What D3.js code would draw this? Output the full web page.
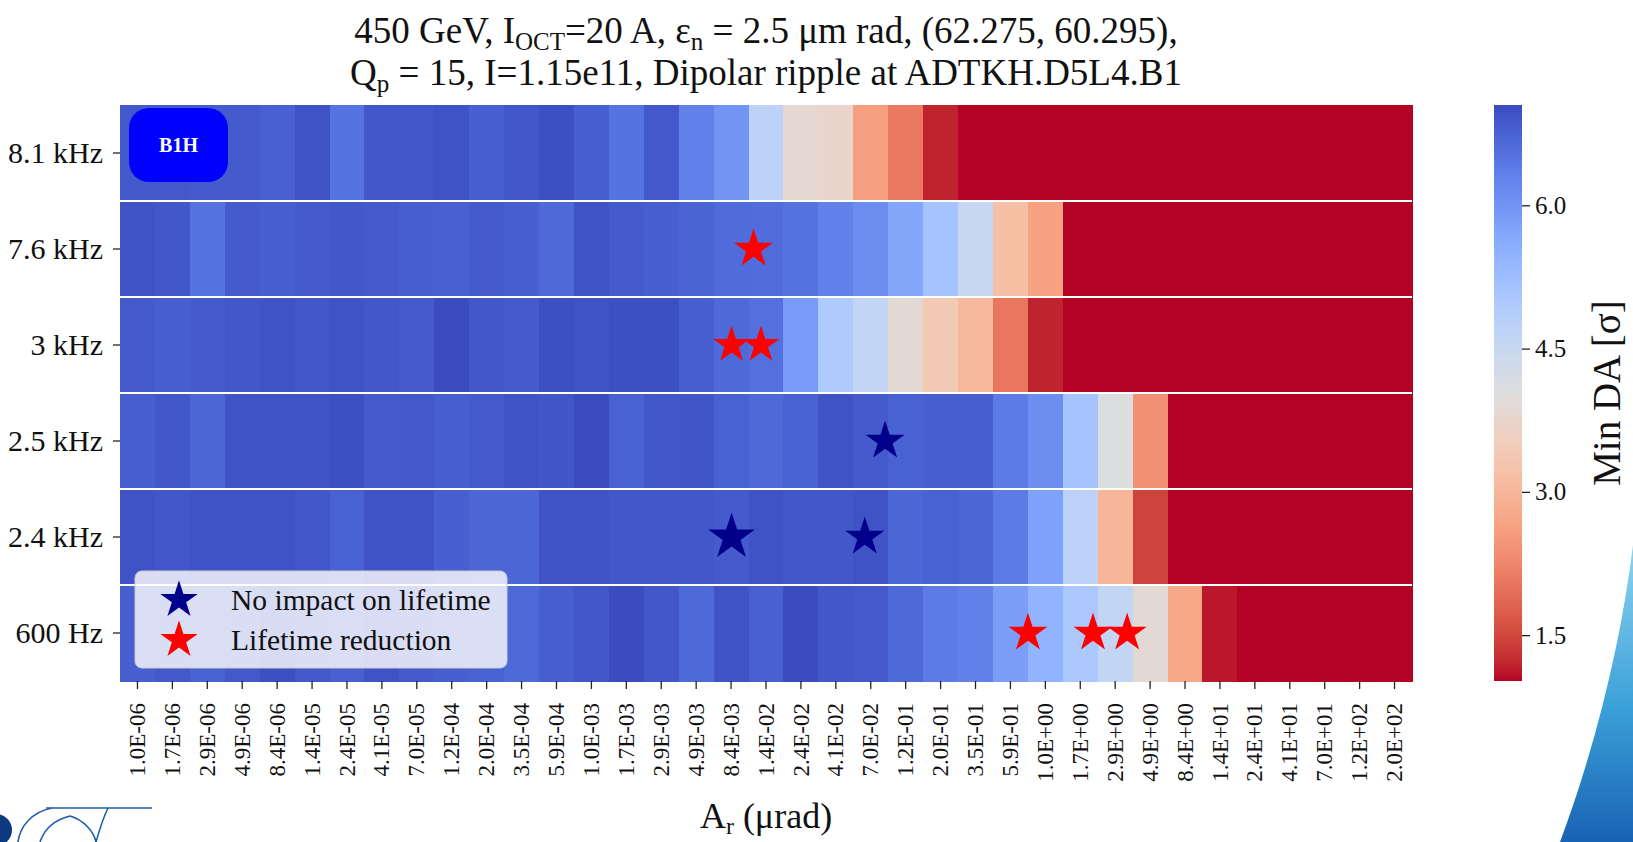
<!DOCTYPE html>
<html>
<head>
<meta charset="utf-8">
<script src="https://cdn.jsdelivr.net/npm/d3@7"></script>
<style>
  html, body { margin: 0; padding: 0; background: #fff; }
  svg { display: block; font-family: "Liberation Serif", "Times New Roman", serif; }
</style>
</head>
<body>
<svg id="chart" width="1633" height="842"></svg>
<script>
// ---- data -------------------------------------------------------------
const frequencies = ["8.1 kHz", "7.6 kHz", "3 kHz", "2.5 kHz", "2.4 kHz", "600 Hz"];

const amplitudeLabels = [
  "1.0E-06", "1.7E-06", "2.9E-06", "4.9E-06", "8.4E-06", "1.4E-05", "2.4E-05", "4.1E-05",
  "7.0E-05", "1.2E-04", "2.0E-04", "3.5E-04", "5.9E-04", "1.0E-03", "1.7E-03", "2.9E-03",
  "4.9E-03", "8.4E-03", "1.4E-02", "2.4E-02", "4.1E-02", "7.0E-02", "1.2E-01", "2.0E-01",
  "3.5E-01", "5.9E-01", "1.0E+00", "1.7E+00", "2.9E+00", "4.9E+00", "8.4E+00", "1.4E+01",
  "2.4E+01", "4.1E+01", "7.0E+01", "1.2E+02", "2.0E+02"
];

// minimum dynamic aperture [sigma] per ripple amplitude, one list per frequency
const minDA_8_1kHz = [6.88, 6.88, 6.85, 6.85, 6.78, 6.95, 6.50, 6.90, 6.90, 6.95, 6.80, 6.90, 7.00,
  6.80, 6.50, 6.88, 6.30, 6.00, 4.70, 3.85, 3.75, 2.60, 2.10, 1.18,
  1.02, 1.02, 1.02, 1.02, 1.02, 1.02, 1.02, 1.02, 1.02, 1.02, 1.02, 1.02, 1.02];
const minDA_7_6kHz = [6.95, 6.90, 6.50, 6.85, 6.80, 6.85, 6.90, 6.85, 6.80, 6.78, 6.85, 6.80, 6.65,
  6.95, 6.85, 6.80, 6.72, 6.62, 6.60, 6.50, 6.30, 6.10, 5.70, 5.15, 4.50, 3.20, 2.65,
  1.02, 1.02, 1.02, 1.02, 1.02, 1.02, 1.02, 1.02, 1.02, 1.02];
const minDA_3kHz = [6.85, 6.80, 6.85, 6.90, 6.95, 6.90, 6.95, 6.90, 6.85, 7.05, 6.90, 6.85, 7.00,
  6.95, 7.00, 7.00, 6.80, 6.65, 6.55, 5.90, 4.95, 4.60, 3.90, 3.40, 3.05, 2.05, 1.18,
  1.02, 1.02, 1.02, 1.02, 1.02, 1.02, 1.02, 1.02, 1.02, 1.02];
const minDA_2_5kHz = [6.80, 6.90, 6.70, 6.95, 6.95, 6.95, 7.00, 6.85, 6.88, 6.80, 6.85, 6.95, 6.92,
  7.05, 6.75, 6.90, 6.92, 6.75, 6.65, 6.75, 6.95, 6.85, 6.75, 6.80, 6.80, 6.40, 6.10,
  5.15, 4.05, 2.40, 1.02, 1.02, 1.02, 1.02, 1.02, 1.02, 1.02];
const minDA_2_4kHz = [6.95, 6.90, 6.95, 6.95, 6.95, 6.90, 6.75, 6.95, 6.95, 6.80, 6.70, 6.70, 6.95,
  6.95, 6.90, 6.90, 6.90, 6.85, 6.95, 6.90, 6.90, 6.95, 6.70, 6.75, 6.70, 6.40, 5.80,
  4.70, 3.00, 1.45, 1.02, 1.02, 1.02, 1.02, 1.02, 1.02, 1.02];
const minDA_600Hz = [6.80, 6.88, 6.75, 6.88, 7.00, 6.88, 6.78, 6.95, 6.85, 6.80, 6.75, 6.65, 6.80,
  6.90, 7.05, 6.90, 6.65, 6.95, 6.78, 7.05, 6.90, 6.85, 6.65, 6.40, 6.30, 5.85, 5.45,
  5.00, 4.60, 3.90, 2.75, 1.12, 1.02, 1.02, 1.02, 1.02, 1.02];

// measured points: ripple frequency, amplitude [urad], marker scale
const noImpactFreq = ["2.5 kHz", "2.4 kHz", "2.4 kHz"];
const noImpactAmp = [0.0865, 0.00838, 0.0635];
const noImpactScale = [1.0, 1.2, 1.0];

const reductionFreq = ["7.6 kHz", "3 kHz", "3 kHz", "600 Hz", "600 Hz", "600 Hz"];
const reductionAmp = [0.0117, 0.00838, 0.0131, 0.759, 2.04, 3.43];
const reductionScale = [1.0, 0.95, 0.95, 1.0, 1.0, 1.0];

const colorbarTicks = [1.5, 3.0, 4.5, 6.0];

// Moreland's cool-warm diverging map, 33 control points (blue -> red)
const coolwarmStops = [
  [59,76,192],[68,90,204],[77,104,215],[87,117,225],[98,130,234],[108,142,241],[119,154,247],
  [130,165,251],[141,176,254],[152,185,255],[163,194,255],[174,201,253],[184,208,249],
  [194,213,244],[204,217,238],[213,219,230],[221,221,221],[229,216,209],[236,211,197],
  [241,204,185],[245,196,173],[247,187,160],[247,177,148],[247,166,135],[244,154,123],
  [241,141,111],[236,127,99],[229,112,88],[222,96,77],[213,80,66],[203,62,56],[192,40,47],[180,4,38]
];

// ---- setup --------------------------------------------------------------
const rows = [minDA_8_1kHz, minDA_7_6kHz, minDA_3kHz, minDA_2_5kHz, minDA_2_4kHz, minDA_600Hz];
const cells = [];
frequencies.forEach((f, i) => rows[i].forEach((v, j) => cells.push({ f, a: amplitudeLabels[j], v })));

const svg = d3.select("#chart");
const plot = { left: 120, right: 1412, top: 105, bottom: 681 };
const cbar = { x: 1494, w: 28 };

const x = d3.scaleBand().domain(amplitudeLabels).range([plot.left, plot.right]);
const y = d3.scaleBand().domain(frequencies).range([plot.top, plot.bottom]);

const coolwarm = d3.scaleLinear()
  .domain(d3.range(coolwarmStops.length).map(i => i / (coolwarmStops.length - 1)))
  .range(coolwarmStops.map(c => d3.rgb(c[0], c[1], c[2])))
  .interpolate(d3.interpolateRgb).clamp(true);

const [vmin, vmax] = d3.extent(cells, d => d.v);
const norm = d3.scaleLinear().domain([vmin, vmax]).range([0, 1]).clamp(true);
const color = v => coolwarm(1 - norm(v));   // reversed: high aperture = blue

// amplitude (log) -> pixel, aligned with the band centres
const ampPos = d3.scaleLog()
  .domain([1e-6, 2e2])
  .range([x(amplitudeLabels[0]) + x.bandwidth() / 2,
          x(amplitudeLabels[amplitudeLabels.length - 1]) + x.bandwidth() / 2]);

// ---- slide decorations (logo corner and side swoosh) --------------------
const defs = svg.append("defs");
const sw = defs.append("linearGradient").attr("id", "swoosh").attr("x1", 0).attr("y1", 0).attr("x2", 0).attr("y2", 1);
sw.append("stop").attr("offset", 0).attr("stop-color", "#8fd3ee");
sw.append("stop").attr("offset", 0.55).attr("stop-color", "#3aa0d8");
sw.append("stop").attr("offset", 1).attr("stop-color", "#1a62b4");
svg.append("path")
  .attr("d", "M1633,545 C1622,635 1598,740 1560,842 L1633,842 Z")
  .attr("fill", "url(#swoosh)");

const logo = svg.append("g").attr("fill", "none").attr("stroke", "#1f5fae").attr("stroke-width", 1.6);
logo.append("path").attr("d", "M46,808 L152,808");
logo.append("path").attr("d", "M18,842 C20,826 32,812 52,808");
logo.append("path").attr("d", "M40,842 C44,830 54,820 70,816 C84,820 94,832 96,842");
logo.append("path").attr("d", "M96,842 C100,828 104,816 108,808");
svg.append("circle").attr("cx", -4).attr("cy", 830).attr("r", 16).attr("fill", "#0b3a7e");

// ---- title --------------------------------------------------------------
const title = svg.append("g").attr("font-size", 37).attr("fill", "#111").attr("text-anchor", "middle");
const t1 = title.append("text").attr("x", (plot.left + plot.right) / 2).attr("y", 43);
t1.append("tspan").text("450 GeV, I");
t1.append("tspan").attr("font-size", 25).attr("dy", 7).text("OCT");
t1.append("tspan").attr("dy", -7).text("=20 A, \u03b5");
t1.append("tspan").attr("font-size", 25).attr("dy", 7).text("n");
t1.append("tspan").attr("dy", -7).text(" = 2.5 \u03bcm rad, (62.275, 60.295),");
const t2 = title.append("text").attr("x", (plot.left + plot.right) / 2).attr("y", 85);
t2.append("tspan").text("Q");
t2.append("tspan").attr("font-size", 25).attr("dy", 7).text("p");
t2.append("tspan").attr("dy", -7).text(" = 15,  I=1.15e11, Dipolar ripple at ADTKH.D5L4.B1");

// ---- heatmap ------------------------------------------------------------
svg.append("g").selectAll("rect").data(cells).join("rect")
  .attr("x", d => x(d.a))
  .attr("y", d => y(d.f))
  .attr("width", x.bandwidth() + 0.6)
  .attr("height", y.bandwidth() + 0.6)
  .attr("fill", d => color(d.v))
  .attr("shape-rendering", "crispEdges");

// white separators between frequency rows
svg.append("g").selectAll("line").data(frequencies.slice(1)).join("line")
  .attr("x1", plot.left).attr("x2", plot.right)
  .attr("y1", d => y(d)).attr("y2", d => y(d))
  .attr("stroke", "#fff").attr("stroke-width", 2.2);

// beam tag
const tag = svg.append("g");
tag.append("rect").attr("x", 129).attr("y", 108).attr("width", 99).attr("height", 74)
  .attr("rx", 20).attr("fill", "#0000ff");
tag.append("text").attr("x", 178.5).attr("y", 152).attr("text-anchor", "middle")
  .attr("font-size", 20).attr("font-weight", "bold").attr("fill", "#fff").text("B1H");

// ---- star markers -------------------------------------------------------
const starR = 20.5;
const starPath = s => d3.symbol(d3.symbolStar, (starR * s) ** 2 / 0.8908130915292852)();

function drawStars(freqs, amps, scales, fill) {
  svg.append("g").selectAll("path").data(freqs.map((f, i) => ({ f, a: amps[i], s: scales[i] })))
    .join("path")
    .attr("d", d => starPath(d.s))
    .attr("transform", d => `translate(${ampPos(d.a)},${y(d.f) + y.bandwidth() / 2})`)
    .attr("fill", fill);
}
drawStars(noImpactFreq, noImpactAmp, noImpactScale, "#00008b");
drawStars(reductionFreq, reductionAmp, reductionScale, "#ff0000");

// ---- axes ---------------------------------------------------------------
const yAxis = svg.append("g").attr("transform", `translate(${plot.left},0)`)
  .call(d3.axisLeft(y).tickSize(7).tickPadding(10));
yAxis.select(".domain").remove();
yAxis.selectAll("text").attr("font-size", 30).attr("font-family", "Liberation Serif").attr("fill", "#111");
yAxis.selectAll("line").attr("stroke", "#222").attr("stroke-width", 1.3);

const xAxis = svg.append("g").attr("transform", `translate(0,${plot.bottom})`)
  .call(d3.axisBottom(x).tickSize(8));
xAxis.select(".domain").remove();
xAxis.selectAll("line").attr("stroke", "#222").attr("stroke-width", 1.3);
xAxis.selectAll("text")
  .attr("font-size", 23).attr("font-family", "Liberation Serif").attr("fill", "#111")
  .attr("transform", "rotate(-90)")
  .attr("text-anchor", "end")
  .attr("x", -22).attr("y", 0).attr("dy", "0.33em");

const xLabel = svg.append("text").attr("x", (plot.left + plot.right) / 2).attr("y", 828)
  .attr("text-anchor", "middle").attr("font-size", 36).attr("fill", "#111");
xLabel.append("tspan").text("A");
xLabel.append("tspan").attr("font-size", 24).attr("dy", 6).text("r");
xLabel.append("tspan").attr("dy", -6).text(" (\u03bcrad)");

// ---- legend -------------------------------------------------------------
const legend = svg.append("g");
legend.append("rect").attr("x", 135).attr("y", 571).attr("width", 372).attr("height", 97)
  .attr("rx", 7).attr("fill", "#fff").attr("fill-opacity", 0.8)
  .attr("stroke", "#cccccc").attr("stroke-width", 1);
[["No impact on lifetime", "#00008b"], ["Lifetime reduction", "#ff0000"]].forEach((e, i) => {
  const cy = 600 + i * 40;
  legend.append("path").attr("d", starPath(0.96)).attr("transform", `translate(179,${cy})`).attr("fill", e[1]);
  legend.append("text").attr("x", 231).attr("y", cy).attr("dy", "0.35em")
    .attr("font-size", 29.5).attr("fill", "#111").text(e[0]);
});

// ---- colorbar -----------------------------------------------------------
const cScale = d3.scaleLinear().domain([vmin, vmax]).range([plot.bottom, plot.top]);
const grad = defs.append("linearGradient").attr("id", "cbarGrad")
  .attr("x1", 0).attr("y1", 1).attr("x2", 0).attr("y2", 0);
d3.range(0, 1.0001, 0.02).forEach(t => {
  grad.append("stop").attr("offset", t).attr("stop-color", color(vmin + t * (vmax - vmin)));
});
svg.append("rect").attr("x", cbar.x).attr("y", plot.top).attr("width", cbar.w)
  .attr("height", plot.bottom - plot.top).attr("fill", "url(#cbarGrad)");

const cAxis = svg.append("g").attr("transform", `translate(${cbar.x + cbar.w},0)`)
  .call(d3.axisRight(cScale).tickValues(colorbarTicks).tickFormat(d3.format(".1f")).tickSize(8).tickPadding(5));
cAxis.select(".domain").remove();
cAxis.selectAll("line").attr("stroke", "#222").attr("stroke-width", 1.3);
cAxis.selectAll("text").attr("font-size", 25).attr("font-family", "Liberation Serif").attr("fill", "#111");

svg.append("text").attr("transform", `translate(1620,${(plot.top + plot.bottom) / 2}) rotate(-90)`)
  .attr("text-anchor", "middle").attr("font-size", 39).attr("fill", "#111").text("Min DA [\u03c3]");
</script>
</body>
</html>
